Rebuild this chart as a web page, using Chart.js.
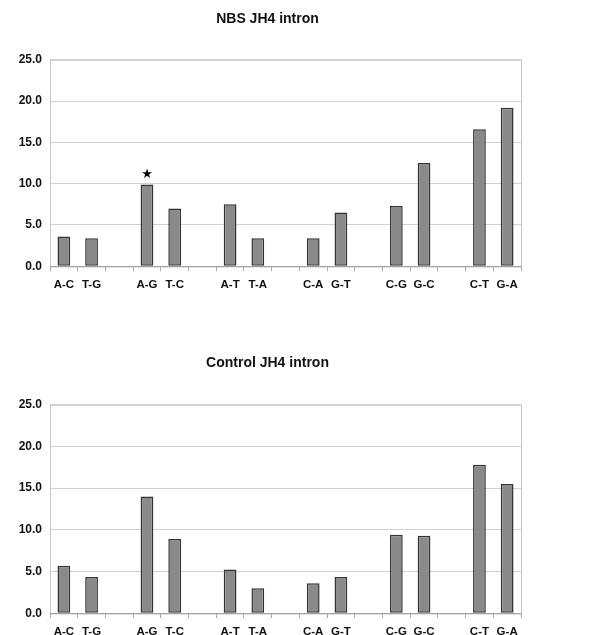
<!DOCTYPE html>
<html>
<head>
<meta charset="utf-8">
<script src="https://cdn.jsdelivr.net/npm/chart.js@4"></script>
<style>
  body { margin: 0; background: #fff; overflow: hidden; }
  .box { position: absolute; left: 0; width: 614px; }
  #top { top: 0; height: 300px; }
  #bottom { top: 312px; height: 335px; }
</style>
</head>
<body>
<div class="box" id="top"><canvas id="nbsChart"></canvas></div>
<div class="box" id="bottom"><canvas id="controlChart"></canvas></div>
<script>
// categories, blank slots separate the pairs
const categories = ['A-C', 'T-G', '', 'A-G', 'T-C', '', 'A-T', 'T-A', '', 'C-A', 'G-T', '', 'C-G', 'G-C', '', 'C-T', 'G-A'];
const nbsValues = [3.6, 3.4, null, 9.9, 7.0, null, 7.5, 3.4, null, 3.4, 6.5, null, 7.3, 12.5, null, 16.6, 19.2];
const controlValues = [5.7, 4.35, null, 14.0, 8.9, null, 5.25, 3.0, null, 3.6, 4.35, null, 9.4, 9.3, null, 17.8, 15.5];
const yTicks = [0, 5, 10, 15, 20, 25];
const nbsMarked = ['A-G'];   // bars with a star

Chart.defaults.font.family = '"Liberation Sans", Arial, sans-serif';
Chart.defaults.color = '#111';

// light frame round the plot + star markers
const framePlugin = {
    id: 'frame',
    afterDatasetsDraw(chart, args, opts) {
        const a = chart.chartArea;
        const ctx = chart.ctx;
        ctx.save();
        ctx.strokeStyle = '#c8c8c8';
        ctx.lineWidth = 1;
        ctx.strokeRect(a.left + 0.5, a.top + 0.5, a.right - a.left, a.bottom - a.top);
        ctx.strokeStyle = '#999';
        ctx.beginPath();
        ctx.moveTo(a.left, a.bottom + 0.5);
        ctx.lineTo(a.right + 1, a.bottom + 0.5);
        ctx.stroke();

        const xs = chart.scales.x, ys = chart.scales.y;
        const vals = chart.data.datasets[0].data;
        ctx.fillStyle = '#000';
        ctx.font = '13px "DejaVu Sans"';
        ctx.textAlign = 'center';
        ctx.textBaseline = 'bottom';
        (opts.marked || []).forEach(function(c) {
            const i = categories.indexOf(c);
            ctx.fillText('\u2605', xs.getPixelForValue(i), ys.getPixelForValue(vals[i]) - 3);
        });
        ctx.restore();
    }
};

function makeChart(id, title, values, marked, pad, titlePad) {
    return new Chart(document.getElementById(id), {
        type: 'bar',
        data: {
            labels: categories,
            datasets: [{
                data: values,
                backgroundColor: '#8a8a8a',
                borderColor: '#333',
                borderWidth: 1.5,
                borderSkipped: false,
                categoryPercentage: 1.0,
                barPercentage: 0.46
            }]
        },
        options: {
            responsive: true,
            maintainAspectRatio: false,
            animation: false,
            layout: { padding: pad },
            plugins: {
                legend: { display: false },
                tooltip: { enabled: false },
                title: {
                    display: true,
                    text: title,
                    font: { size: 14, weight: 'bold' },
                    color: '#111',
                    padding: titlePad
                },
                frame: { marked: marked }
            },
            scales: {
                x: {
                    grid: { display: true, drawOnChartArea: false, offset: true, tickLength: 5, color: '#aaa' },
                    border: { display: false },
                    ticks: { font: { size: 11.5, weight: 'bold' }, padding: 7, maxRotation: 0, autoSkip: false }
                },
                y: {
                    min: 0,
                    max: 25,
                    afterBuildTicks: function(axis) { axis.ticks = yTicks.map(v => ({ value: v })); },
                    afterFit: function(axis) { axis.width = 36; },
                    grid: { color: '#d2d2d2', drawTicks: false },
                    border: { display: false },
                    ticks: { font: { size: 12, weight: 'bold' }, padding: 8, callback: v => v.toFixed(1) }
                }
            }
        },
        plugins: [framePlugin]
    });
}

makeChart('nbsChart', 'NBS JH4 intron', nbsValues, nbsMarked,
    { top: 11, left: 14, right: 93, bottom: 1 }, { top: 0, bottom: 32 });
makeChart('controlChart', 'Control JH4 intron', controlValues, [],
    { top: 43, left: 14, right: 93, bottom: 1 }, { top: 0, bottom: 33 });
</script>
</body>
</html>
